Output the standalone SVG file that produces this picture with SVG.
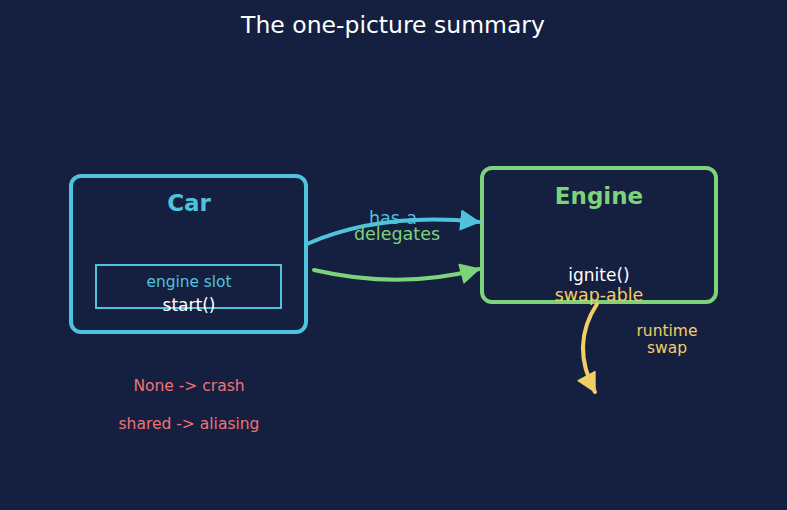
<svg xmlns="http://www.w3.org/2000/svg" width="787" height="510" viewBox="0 0 787 510">
<style>
text{font-family:"DejaVu Sans","Liberation Sans",sans-serif;text-anchor:middle}
.title{font-size:23.5px;fill:#ffffff}
.hd{font-size:23px;font-weight:bold}
.w{fill:#ffffff;font-size:17px}
.red{fill:#f07272;font-size:15.5px}
.yl{fill:#f2cf66}
.conn{fill:none;stroke-width:4;stroke-linecap:round}
</style>
<defs>
<marker id="ab" markerUnits="userSpaceOnUse" markerWidth="24" markerHeight="24" viewBox="0 0 24 24" refX="19" refY="12" orient="auto"><path d="M1,2.5 L19,12 L1,21.5 Z" fill="#4fc3dc" stroke="#4fc3dc" stroke-width="1.5" stroke-linejoin="round"/></marker>
<marker id="ag" markerUnits="userSpaceOnUse" markerWidth="24" markerHeight="24" viewBox="0 0 24 24" refX="19" refY="12" orient="auto"><path d="M1,2.5 L19,12 L1,21.5 Z" fill="#7dd37a" stroke="#7dd37a" stroke-width="1.5" stroke-linejoin="round"/></marker>
<marker id="ay" markerUnits="userSpaceOnUse" markerWidth="24" markerHeight="24" viewBox="0 0 24 24" refX="19" refY="12" orient="auto"><path d="M1,2.5 L19,12 L1,21.5 Z" fill="#f2cf66" stroke="#f2cf66" stroke-width="1.5" stroke-linejoin="round"/></marker>
</defs>
<rect width="787" height="510" fill="#152040"/>
<text class="title" x="393" y="33">The one-picture summary</text>
<g id="car">
<rect x="71" y="176" width="235" height="156" rx="10" fill="#152040" stroke="#4fc3dc" stroke-width="4"/>
<text class="hd" x="189" y="211" fill="#4fc3dc">Car</text>
<rect x="96" y="265" width="185" height="43" fill="none" stroke="#4fc3dc" stroke-width="2"/>
<text x="189" y="287" font-size="15.4" fill="#4fc3dc">engine slot</text>
<text class="w" x="189" y="311">start()</text>
</g>
<g id="engine">
<rect x="482" y="168" width="234" height="134" rx="10" fill="#152040" stroke="#7dd37a" stroke-width="4"/>
<text class="hd" x="599" y="204" fill="#7dd37a">Engine</text>
<text class="w" x="599" y="281">ignite()</text>
<text class="yl" x="599" y="301" font-size="17.4">swap-able</text>
</g>
<g id="connectors">
<text x="393" y="224" font-size="17.5" fill="#4fc3dc">has-a</text>
<path class="conn" d="M307,244 Q380,212 479,222" stroke="#4fc3dc" marker-end="url(#ab)"/>
<text x="397" y="240" font-size="17.5" fill="#7dd37a">delegates</text>
<path class="conn" d="M314,270 Q400,290 479,269" stroke="#7dd37a" marker-end="url(#ag)"/>
<path class="conn" d="M597,304 Q570,345 595,392" stroke="#f2cf66" marker-end="url(#ay)"/>
<text class="yl" x="667" y="336" font-size="15.5">runtime</text>
<text class="yl" x="667" y="353" font-size="15.5">swap</text>
</g>
<g id="notes">
<text class="red" x="189" y="391">None -&gt; crash</text>
<text class="red" x="189" y="429">shared -&gt; aliasing</text>
</g>
</svg>
